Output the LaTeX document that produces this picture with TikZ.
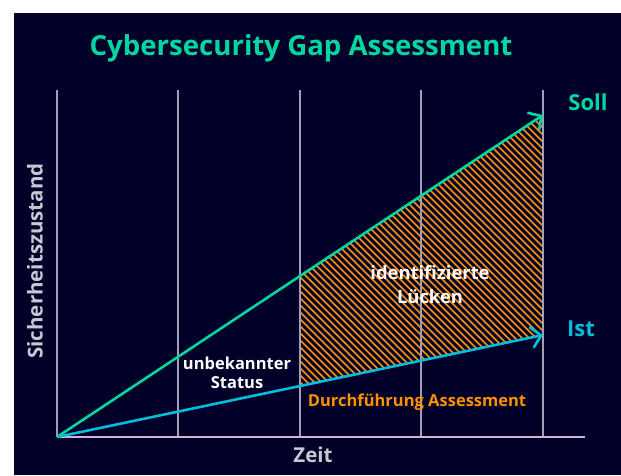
\documentclass[tikz,border=0pt]{standalone}
\usepackage{fontspec}
\setmainfont{Open Sans}
\usetikzlibrary{arrows.meta,calc}
\definecolor{bg}{HTML}{000028}
\definecolor{tealc}{HTML}{00D7A0}
\definecolor{cyanc}{HTML}{00BEDC}
\definecolor{orangec}{HTML}{FF9100}
\definecolor{gridc}{HTML}{A0A0B4}
\definecolor{axisc}{HTML}{D2B4D2}
\definecolor{labelc}{HTML}{C8C8D2}
\tikzset{
  gridline/.style={draw=gridc, line width=1.4pt},
  axisline/.style={draw=axisc, line width=2.2pt},
  hatchline/.style={draw=orangec, line width=1.7pt},
  sollline/.style={draw=tealc, line width=2.6pt, -{Straight Barb[length=10pt,width=21pt]}},
  istline/.style={draw=cyanc, line width=2.6pt, -{Straight Barb[length=10pt,width=21pt]}},
  lbl/.style={font=\bfseries\fontsize{16.5}{22}\selectfont, inner sep=0pt},
  axislbl/.style={font=\bfseries\fontsize{20.5}{24}\selectfont, inner sep=0pt, text=labelc},
}
\begin{document}
\begin{tikzpicture}[x=1pt,y=-1pt]
\useasboundingbox (0,0) rectangle (621,475);
\fill[white] (0,0) rectangle (621,475);
\fill[bg] (14,13) rectangle (621,475);
\coordinate (O) at (57,437);
\coordinate (S) at (543,115);
\coordinate (I) at (543,335);
\coordinate (Sm) at ($(O)!0.5!(S)$);
\coordinate (Im) at ($(O)!0.5!(I)$);
\coordinate (XE) at (585,437);
% hatch
\begin{scope}
  \clip (Sm) -- (S) -- (I) -- (Im) -- cycle;
  \foreach \k in {-110,-103,...,450} \draw[hatchline] (\k,0) -- ++(480,480);
\end{scope}
% grid
\foreach \x in {57,178,300,421,543} \draw[gridline] (\x,90) -- (\x,437);
\draw[axisline] (O) -- (XE);
\draw[sollline] (O) -- (S);
\draw[istline] (O) -- (I);
% labels
\node[text=tealc, font=\bfseries\fontsize{27.6}{32}\selectfont, inner sep=0pt] (title) at (301,48) {Cybersecurity Gap Assessment};
\node[text=tealc, font=\bfseries\fontsize{22}{26}\selectfont, inner sep=0pt] (soll) at (588,102) {Soll};
\node[text=cyanc, font=\bfseries\fontsize{22}{26}\selectfont, inner sep=0pt] (ist) at (581,329) {Ist};
\node[lbl, text=white, align=center, font=\bfseries\fontsize{18.4}{24}\selectfont] (gap) at (430,285) {identifizierte\\Lücken};
\node[lbl, text=white, align=center, font=\bfseries\fontsize{16.5}{19}\selectfont] (unk) at (237,373) {unbekannter\\Status};
\node[lbl, text=orangec] (durch) at (417,402) {Durchführung Assessment};
\node[axislbl] (zeit) at (313,455) {Zeit};
\node[axislbl, rotate=90] (sich) at (35,261) {Sicherheitszustand};
\end{tikzpicture}
\end{document}
